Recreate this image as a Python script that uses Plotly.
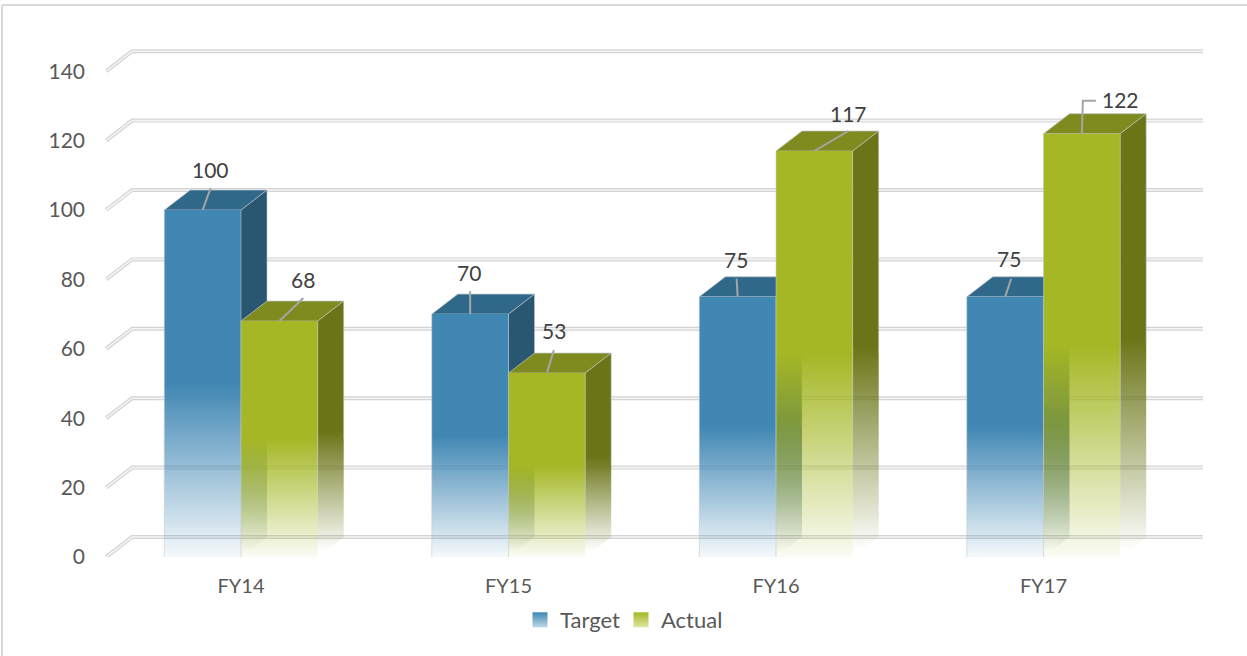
import plotly.graph_objects as go

categories = ["FY14", "FY15", "FY16", "FY17"]
target_values = [100, 70, 75, 75]
actual_values = [68, 53, 117, 122]
y_ticks = [0, 20, 40, 60, 80, 100, 120, 140]

W, H = 1247, 656
L_PX, R_PX, T_PX, B_PX = 105, 1203, 45, 557
X0_PX, X_SCALE, Y_SCALE = 241, 267.5, 3.47
DX = 26 / X_SCALE
DY = 20 / Y_SCALE
BAR_W = 76.7 / X_SCALE

# leader-line bends / label offsets from each bar's top centre, in pixels
target_leaders = [[(8, -22)], [(0, -23)], [(-1, -18)], [(6, -18)]]
actual_leaders = [[(24, -23)], [(7, -23)], [(34, -20)], [(1, -33), (14, -33)]]
target_labels = [(8, -41), (-1, -42), (-2, -37), (4, -38)]
actual_labels = [(24, -42), (7, -43), (34, -38), (39, -34)]

BLUE = ((64, 135, 180), (48, 104, 138), (41, 87, 113))
GREEN = ((165, 183, 37), (127, 139, 30), (107, 116, 22))
EDGE = "rgba(190,195,200,0.75)"
EDGE_SOFT = "rgba(190,200,205,0.55)"


def rgba(c, a):
    return f"rgba({c[0]},{c[1]},{c[2]},{a})"


def fade(color, start, stop, lo=0.05):
    return dict(
        type="vertical",
        start=start,
        stop=stop,
        colorscale=[[0, rgba(color, lo)], [0.5, rgba(color, 1)], [1, rgba(color, 1)]],
    )


fig = go.Figure()

# gridlines with their side-wall tails
x_left = (L_PX - X0_PX) / X_SCALE
x_right = (R_PX - X0_PX) / X_SCALE
for t in y_ticks:
    xs = [x_left + 0.004, x_left + 0.004 + DX, x_right]
    ys = [t, t + DY, t + DY]
    for width, col in ((4, "#d4d4d4"), (1.6, "#f4f4f4")):
        fig.add_trace(go.Scatter(x=xs, y=ys, mode="lines", showlegend=False, hoverinfo="skip",
                                 line=dict(color=col, width=width)))


def add_poly(xs, ys, fill=None, grad=None, edge=False):
    kw = dict(fillgradient=grad) if grad else dict(fillcolor=fill)
    line = dict(color=EDGE, width=1) if edge else dict(width=0)
    fig.add_trace(go.Scatter(x=xs + xs[:1], y=ys + ys[:1], mode="lines", fill="toself",
                             line=line, showlegend=False, hoverinfo="skip", **kw))


def add_bar(i, v, side, palette):
    x0 = i - BAR_W if side == 0 else i
    x1 = x0 + BAR_W
    front, top, wall = palette
    add_poly([x1, x1 + DX, x1 + DX, x1], [0, DY, v + DY, v], grad=fade(wall, 0.3 * DY, v + 0.5 * DY, 0.0))
    add_poly([x0, x1, x1 + DX, x0 + DX], [v, v, v + DY, v + DY], fill=rgba(top, 1), edge=True)
    add_poly([x0, x1, x1, x0], [0, 0, v, v], grad=fade(front, 0, v))
    # soft outline: full on the front's left edge, fading out part-way on the others
    fig.add_trace(go.Scatter(
        x=[x0, x0, None, x1, x1, None, x1 + DX, x1 + DX],
        y=[0, v, None, 0.3 * v, v, None, 0.5 * v, v + DY],
        mode="lines", line=dict(color=EDGE_SOFT, width=1), showlegend=False, hoverinfo="skip"))


for i in range(len(categories)):
    add_bar(i, target_values[i], 0, BLUE)
    add_bar(i, actual_values[i], 1, GREEN)

# leader lines and data labels
annotations = []
for i in range(len(categories)):
    for side, vals, leaders, labels in (
        (0, target_values, target_leaders, target_labels),
        (1, actual_values, actual_leaders, actual_labels),
    ):
        v = vals[i]
        cx = i - BAR_W / 2 if side == 0 else i + BAR_W / 2
        lx = [cx] + [cx + p[0] / X_SCALE for p in leaders[i]]
        ly = [v] + [v - p[1] / Y_SCALE for p in leaders[i]]
        fig.add_trace(go.Scatter(x=lx, y=ly, mode="lines", showlegend=False, hoverinfo="skip",
                                 line=dict(color="#a6a6a6", width=2)))
        annotations.append(dict(x=cx, y=v, xref="x", yref="y", text=str(v), showarrow=False,
                                xshift=labels[i][0], yshift=-labels[i][1],
                                font=dict(family="Lato", size=21, color="#404040")))

# legend entries
for name, pal, tint in (("Target", BLUE, "rgba(190,215,232,1)"), ("Actual", GREEN, "rgba(222,230,160,1)")):
    fig.add_trace(go.Scatter(x=[None], y=[None], mode="markers", name=name,
                             marker=dict(symbol="square", size=15, color=rgba(pal[0], 1),
                                         gradient=dict(type="vertical", color=tint))))

x_span = R_PX - L_PX
y_span = B_PX - T_PX
fig.update_layout(
    width=W, height=H,
    margin=dict(l=L_PX, r=W - R_PX, t=T_PX, b=H - B_PX, pad=0, autoexpand=False),
    paper_bgcolor="white", plot_bgcolor="white",
    font=dict(family="Lato", size=21, color="#595959"),
    xaxis=dict(range=[x_left, x_right], tickmode="array", tickvals=list(range(len(categories))),
               ticktext=categories, showgrid=False, zeroline=False, showline=False, ticks="",
               ticklabelstandoff=15, tickfont=dict(size=20)),
    yaxis=dict(range=[0, y_span / Y_SCALE], tickmode="array", tickvals=y_ticks,
               ticktext=[str(t) for t in y_ticks], showgrid=False, zeroline=False, showline=False,
               ticks="", ticklabelstandoff=19, ticklabelshift=0),
    legend=dict(orientation="h", x=(520 - L_PX) / x_span, xanchor="left",
                y=(B_PX - 620) / y_span, yanchor="middle",
                bgcolor="rgba(0,0,0,0)", font=dict(family="Lato", size=22, color="#595959"),
                entrywidth=56, entrywidthmode="pixels",
                itemclick=False, itemdoubleclick=False),
    annotations=annotations,
    shapes=[
        dict(type="line", xref="paper", yref="paper",
             x0=(2 - L_PX) / x_span, x1=(W - L_PX) / x_span,
             y0=(B_PX - 5) / y_span, y1=(B_PX - 5) / y_span,
             line=dict(color="#d9d9d9", width=2), layer="below"),
        dict(type="line", xref="paper", yref="paper",
             x0=(2 - L_PX) / x_span, x1=(2 - L_PX) / x_span,
             y0=(B_PX - H) / y_span, y1=(B_PX - 5) / y_span,
             line=dict(color="#d9d9d9", width=2), layer="below"),
    ],
    hovermode=False,
)

fig.write_html("out.html", config=dict(displayModeBar=False),
               post_script="document.body.style.margin='0';document.body.style.overflow='hidden';")
